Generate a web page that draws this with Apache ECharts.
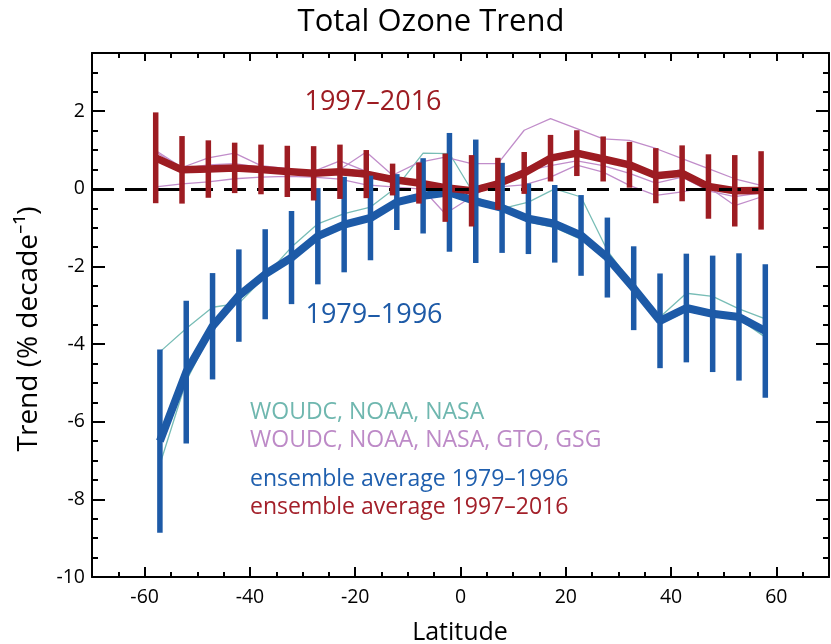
<!DOCTYPE html>
<html>
<head>
<meta charset="utf-8">
<script src="https://cdn.jsdelivr.net/npm/echarts@6/dist/echarts.min.js"></script>
<style>
html,body{margin:0;padding:0;background:#fff;}
#chart{width:831px;height:644px;}
</style>
</head>
<body>
<div id="chart"></div>
<script>
// ---- data ----
const latitudes = [-57.5,-52.5,-47.5,-42.5,-37.5,-32.5,-27.5,-22.5,-17.5,-12.5,-7.5,-2.5,2.5,7.5,12.5,17.5,22.5,27.5,32.5,37.5,42.5,47.5,52.5,57.5];
const xTickValues = [-60,-40,-20,0,20,40,60];
const yTickValues = [-10,-8,-6,-4,-2,0,2];

// ensemble average 1997-2016 and its uncertainty (half range)
const ens1997 = [0.80,0.49,0.51,0.54,0.50,0.45,0.40,0.44,0.38,0.24,0.15,0.03,-0.05,0.13,0.41,0.79,0.92,0.77,0.62,0.34,0.40,0.06,-0.05,-0.04];
const err1997 = [1.17,0.87,0.74,0.65,0.64,0.66,0.70,0.70,0.62,0.41,0.53,0.88,0.92,0.67,0.54,0.60,0.59,0.58,0.59,0.71,0.72,0.83,0.92,1.01];
// ensemble average 1979-1996 and its uncertainty
const ens1979 = [-6.50,-4.72,-3.54,-2.75,-2.20,-1.77,-1.22,-0.92,-0.75,-0.34,-0.18,-0.09,-0.32,-0.49,-0.77,-0.90,-1.20,-1.77,-2.56,-3.40,-3.07,-3.22,-3.30,-3.66];
const err1979 = [2.36,1.84,1.37,1.19,1.16,1.20,1.24,1.23,1.09,0.72,0.97,1.53,1.59,1.16,0.91,1.00,1.04,1.03,1.08,1.22,1.40,1.50,1.64,1.72];

// individual datasets 1979-1996 (WOUDC, NOAA, NASA)
const woudc79 = [-4.20,-3.60,-3.05,-2.95,-2.25,-1.50,-0.90,-0.64,-0.47,0.05,0.92,0.91,-0.21,-0.51,-0.34,0.00,-0.21,-1.59,-2.50,-3.30,-2.69,-2.77,-3.09,-3.35];
const noaa79  = [-7.10,-4.95,-3.62,-2.85,-2.25,-1.82,-1.28,-0.98,-0.80,-0.40,-0.25,-0.15,-0.38,-0.55,-0.85,-1.00,-1.30,-1.85,-2.68,-3.48,-3.15,-3.28,-3.36,-3.82];
const nasa79  = [-6.30,-4.60,-3.45,-2.70,-2.15,-1.72,-1.18,-0.88,-0.70,-0.30,-0.12,-0.05,-0.28,-0.45,-0.72,-0.86,-1.15,-1.72,-2.50,-3.32,-3.00,-3.15,-3.25,-3.70];

// individual datasets 1997-2016 (WOUDC, NOAA, NASA, GTO, GSG)
const woudc97 = [0.99,0.55,0.80,0.92,0.60,0.52,0.42,0.50,0.95,0.35,0.68,0.82,0.65,0.65,1.51,1.81,1.55,1.29,1.25,1.04,0.78,0.52,0.26,0.09];
const noaa97  = [0.05,0.13,0.18,0.26,0.30,0.32,0.30,0.25,0.10,0.05,0.00,-0.05,-0.10,0.05,0.10,0.30,0.61,0.43,0.09,-0.17,-0.08,0.05,-0.43,-0.21];
const nasa97  = [0.95,0.52,0.62,0.65,0.55,0.48,0.45,0.72,0.45,0.30,0.10,-0.64,-0.21,0.20,0.50,0.85,1.00,0.80,0.62,0.35,0.50,0.05,-0.05,0.00];
const gto97   = [0.85,0.45,0.50,0.55,0.48,0.42,0.38,0.40,0.35,0.22,0.12,0.00,-0.10,0.10,0.40,0.75,0.95,0.75,0.60,0.40,0.45,0.10,0.00,-0.05];
const gsg97   = [0.75,0.48,0.45,0.50,0.45,0.40,0.35,0.38,0.30,0.20,0.10,-0.10,0.05,0.15,0.45,0.60,0.72,0.60,0.40,0.15,0.30,-0.05,-0.20,-0.10];

// ---- styling ----
const FONT = '"Open Sans", "Noto Sans", sans-serif';
const RED = '#9d1c22', BLUE = '#1d5aa7', TEAL = '#78bdb6', PURPLE = '#c18dca';
const OFF97 = -0.4, OFF79 = 0.4; // small horizontal separation of the two periods

const pts = (vals, off) => vals.map((v, i) => [latitudes[i] + off, v]);
const bars = (vals, errs, off) => vals.map((v, i) => [latitudes[i] + off, v - errs[i], v + errs[i]]);

function thin(name, vals, off, color) {
  return {type:'line', name, data: pts(vals, off), showSymbol:false, symbol:'none',
    lineStyle:{width:1.3, color}, z:2, silent:true};
}
function errSeries(vals, errs, off, color) {
  return {type:'custom', data: bars(vals, errs, off), z:5, silent:true,
    encode:{x:0, y:[1,2]},
    renderItem: function(params, api){
      const p1 = api.coord([api.value(0), api.value(1)]);
      const p2 = api.coord([api.value(0), api.value(2)]);
      return {type:'line', shape:{x1:p1[0], y1:p1[1], x2:p2[0], y2:p2[1]},
        style:{stroke: color, lineWidth: 5.5}};
    }};
}

const majTickStyle = {color:'#000', width:2};
const axisLineStyle = {lineStyle:{color:'#000', width:2}};

const chart = echarts.init(document.getElementById('chart'), null, {renderer:'canvas'});
chart.setOption({
  animation:false,
  backgroundColor:'#fff',
  grid:{left:92, right:2, top:53, bottom:67, containLabel:false},
  xAxis:[
    {type:'value', position:'bottom', min:-70, max:70,
      axisLine:{show:true, onZero:false, ...axisLineStyle},
      axisTick:{show:true, inside:true, length:10, lineStyle:majTickStyle, customValues:xTickValues},
      axisLabel:{show:true, customValues:xTickValues, color:'#000', fontSize:19.5, fontFamily:FONT, margin:10},
      splitLine:{show:false}},
    {type:'value', position:'bottom', min:-70, max:70, interval:5,
      axisLine:{show:false, onZero:false},
      axisTick:{show:true, inside:true, length:5, lineStyle:majTickStyle},
      axisLabel:{show:false}, splitLine:{show:false}},
    {type:'value', position:'top', min:-70, max:70,
      axisLine:{show:true, onZero:false, ...axisLineStyle},
      axisTick:{show:true, inside:true, length:8, lineStyle:majTickStyle, customValues:xTickValues},
      axisLabel:{show:false}, splitLine:{show:false}},
    {type:'value', position:'top', min:-70, max:70, interval:5,
      axisLine:{show:false, onZero:false},
      axisTick:{show:true, inside:true, length:5, lineStyle:majTickStyle},
      axisLabel:{show:false}, splitLine:{show:false}}
  ],
  yAxis:[
    {type:'value', position:'left', min:-10, max:3.5,
      axisLine:{show:true, onZero:false, ...axisLineStyle},
      axisTick:{show:true, inside:true, length:13, lineStyle:majTickStyle, customValues:yTickValues},
      axisLabel:{show:true, customValues:yTickValues, color:'#000', fontSize:19.5, fontFamily:FONT, margin:7},
      splitLine:{show:false}},
    {type:'value', position:'left', min:-10, max:3.5, interval:0.5,
      axisLine:{show:false, onZero:false},
      axisTick:{show:true, inside:true, length:6, lineStyle:majTickStyle},
      axisLabel:{show:false}, splitLine:{show:false}},
    {type:'value', position:'right', min:-10, max:3.5,
      axisLine:{show:true, onZero:false, ...axisLineStyle},
      axisTick:{show:true, inside:true, length:13, lineStyle:majTickStyle, customValues:yTickValues},
      axisLabel:{show:false}, splitLine:{show:false}},
    {type:'value', position:'right', min:-10, max:3.5, interval:0.5,
      axisLine:{show:false, onZero:false},
      axisTick:{show:true, inside:true, length:6, lineStyle:majTickStyle},
      axisLabel:{show:false}, splitLine:{show:false}}
  ],
  series:[
    thin('WOUDC 1979-1996', woudc79, OFF79, TEAL),
    thin('NOAA 1979-1996', noaa79, OFF79, TEAL),
    thin('NASA 1979-1996', nasa79, OFF79, TEAL),
    thin('WOUDC 1997-2016', woudc97, OFF97, PURPLE),
    thin('NOAA 1997-2016', noaa97, OFF97, PURPLE),
    thin('NASA 1997-2016', nasa97, OFF97, PURPLE),
    thin('GTO 1997-2016', gto97, OFF97, PURPLE),
    thin('GSG 1997-2016', gsg97, OFF97, PURPLE),
    {type:'line', name:'zero', data:[], z:3, silent:true,
      markLine:{silent:true, symbol:'none', label:{show:false},
        lineStyle:{color:'#000', width:3, type:[22,11]},
        data:[{yAxis:0}]}},
    {type:'line', name:'ensemble average 1979–1996', data: pts(ens1979, OFF79), showSymbol:false, symbol:'none',
      lineStyle:{width:8, color:BLUE}, z:4, silent:true},
    {type:'line', name:'ensemble average 1997–2016', data: pts(ens1997, OFF97), showSymbol:false, symbol:'none',
      lineStyle:{width:7.5, color:RED}, z:4, silent:true},
    errSeries(ens1979, err1979, OFF79, BLUE),
    errSeries(ens1997, err1997, OFF97, RED)
  ],
  graphic:[
    {type:'text', x:431, y:22, style:{text:'Total Ozone Trend', font:'31px ' + FONT, fill:'#000', align:'center', verticalAlign:'middle'}},
    {type:'text', x:460, y:633, style:{text:'Latitude', font:'25px ' + FONT, fill:'#000', align:'center', verticalAlign:'middle'}},
    {type:'text', x:29, y:329, rotation:Math.PI/2, style:{text:'Trend (% decade⁻¹)', font:'28px ' + FONT, fill:'#000', align:'center', verticalAlign:'middle'}},
    {type:'text', x:373, y:102, style:{text:'1997–2016', font:'27px ' + FONT, fill:RED, align:'center', verticalAlign:'middle'}},
    {type:'text', x:374, y:315, style:{text:'1979–1996', font:'27px ' + FONT, fill:BLUE, align:'center', verticalAlign:'middle'}},
    {type:'text', x:250, y:412, style:{text:'WOUDC, NOAA, NASA', font:'23px ' + FONT, fill:'#6fb7af', align:'left', verticalAlign:'middle'}},
    {type:'text', x:250, y:440, style:{text:'WOUDC, NOAA, NASA, GTO, GSG', font:'23px ' + FONT, fill:'#bd8ac7', align:'left', verticalAlign:'middle'}},
    {type:'text', x:250, y:479, style:{text:'ensemble average 1979–1996', font:'23px ' + FONT, fill:'#1f5fae', align:'left', verticalAlign:'middle'}},
    {type:'text', x:250, y:507, style:{text:'ensemble average 1997–2016', font:'23px ' + FONT, fill:'#a3202a', align:'left', verticalAlign:'middle'}}
  ]
});
</script>
</body>
</html>
